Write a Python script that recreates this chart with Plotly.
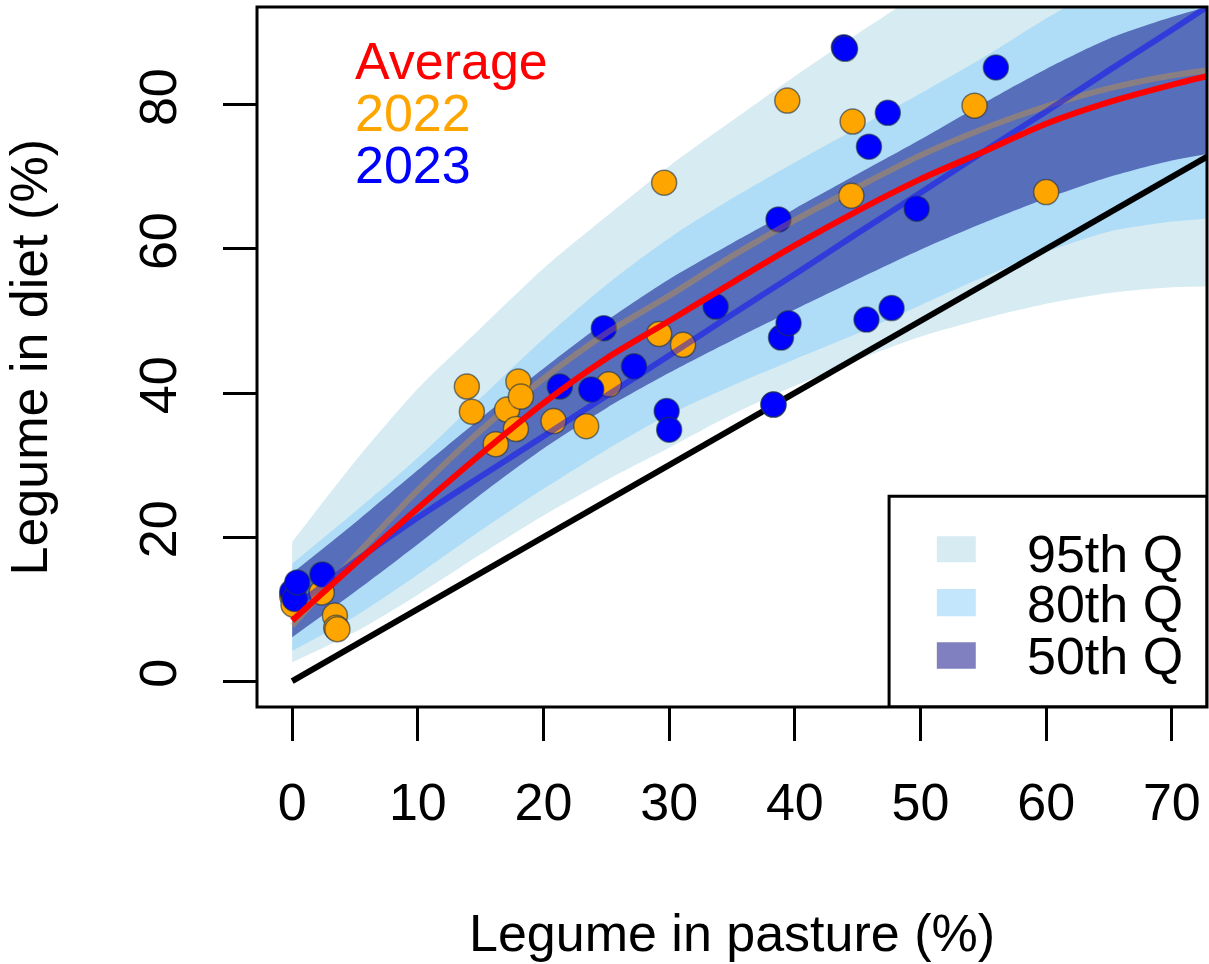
import plotly.graph_objects as go

# ---- data -------------------------------------------------------------
# grid of legume-in-pasture values used for the fitted curves and bands
grid_x = [0, 5, 10, 15, 20, 25, 30, 35, 40, 45, 50, 55, 60, 65, 70, 72.8]

q95_upper = [19.3, 30.5, 40.6, 49.0, 57.3, 64.5, 71.5, 77.8, 84.0, 89.9, 95.5, 100.5, 105.0, 109.0, 112.0, 114.0]
q95_lower = [2.6, 6.8, 12.0, 17.6, 23.0, 27.9, 32.4, 37.0, 41.0, 44.6, 47.8, 50.3, 52.4, 53.9, 54.7, 54.8]
q80_upper = [16.3, 23.5, 31.0, 39.3, 47.5, 55.0, 61.5, 67.0, 72.0, 76.8, 81.6, 86.6, 92.0, 97.0, 101.5, 104.0]
q80_lower = [4.2, 9.0, 14.8, 20.9, 26.7, 32.1, 37.0, 41.0, 44.7, 48.3, 52.2, 56.1, 59.6, 62.4, 63.8, 64.2]
q50_upper = [15.0, 22.0, 29.3, 36.5, 43.4, 50.0, 55.8, 60.8, 65.6, 70.4, 75.2, 80.2, 85.0, 89.2, 92.2, 93.6]
q50_lower = [6.1, 12.4, 19.0, 25.9, 32.3, 37.9, 42.8, 47.3, 51.6, 55.8, 59.9, 63.6, 67.0, 70.0, 72.3, 73.2]

fit_average = [8.4, 16.3, 24.0, 31.5, 38.6, 44.8, 50.0, 55.3, 60.5, 65.3, 69.7, 73.5, 77.4, 80.4, 82.8, 84.0]
fit_2022 = [7.7, 17.3, 26.5, 34.8, 42.0, 48.3, 53.5, 59.0, 64.0, 68.6, 73.0, 76.7, 79.8, 82.3, 84.1, 84.8]
fit_2023 = [10.0, 16.6, 22.7, 28.4, 34.0, 39.6, 45.2, 50.9, 56.5, 62.2, 67.8, 73.5, 79.1, 84.8, 90.4, 93.6]

# 1:1 reference line
one_to_one = [0, 100]

# observations
pasture_2022 = [0.0, 0.1, 2.35, 3.4, 3.5, 3.6, 13.9, 14.3, 16.2, 17.1, 17.8, 18.0, 18.2,
                20.8, 23.4, 25.2, 29.2, 29.6, 31.1, 39.4, 44.6, 44.5, 54.3, 60.0]
diet_2022 = [11.8, 10.6, 12.3, 9.1, 7.4, 7.2, 40.9, 37.4, 32.9, 37.7, 35.0, 41.6, 39.5,
             36.1, 35.4, 41.2, 48.2, 69.2, 46.7, 80.6, 77.7, 67.4, 79.9, 67.9]

pasture_2023 = [0.0, 0.2, 0.4, 2.4, 21.3, 23.8, 24.8, 27.2, 29.8, 30.0, 33.7, 38.3, 38.3,
                38.7, 38.9, 39.5, 43.9, 44.0, 45.7, 45.9, 47.4, 47.7, 49.7, 56.0]
diet_2023 = [12.4, 11.4, 13.7, 14.8, 40.9, 40.5, 49.0, 43.7, 37.5, 34.9, 52.0, 38.4, 38.4,
             64.1, 47.7, 49.7, 88.0, 87.8, 50.2, 74.2, 78.9, 51.8, 65.6, 85.2]

band_labels = ["95th Q", "80th Q", "50th Q"]
band_colors = ["rgba(173,216,230,0.5)", "rgba(135,206,250,0.5)", "rgba(0,0,128,0.5)"]

FONT = "Liberation Sans, Arial, Helvetica, sans-serif"
FS = 52

fig = go.Figure()

# quantile bands, widest first: lower edge, then upper edge filled down to it
hidden = dict(width=0, color="rgba(0,0,0,0)", shape="spline", smoothing=0.8)
for upper, lower, col in zip([q95_upper, q80_upper, q50_upper],
                             [q95_lower, q80_lower, q50_lower], band_colors):
    fig.add_trace(go.Scatter(x=grid_x, y=lower, mode="lines", line=hidden,
                             hoverinfo="skip"))
    fig.add_trace(go.Scatter(x=grid_x, y=upper, mode="lines", line=hidden,
                             fill="tonexty", fillcolor=col, hoverinfo="skip"))

# 1:1 line
fig.add_trace(go.Scatter(x=one_to_one, y=one_to_one, mode="lines",
                         line=dict(color="black", width=6)))

edge = dict(color="rgba(30,50,70,0.6)", width=1.5)
fig.add_trace(go.Scatter(x=pasture_2022, y=diet_2022, mode="markers",
                         marker=dict(size=25, color="#FFA500", line=edge)))
fig.add_trace(go.Scatter(x=pasture_2023, y=diet_2023, mode="markers",
                         marker=dict(size=25, color="#0000FF", line=edge)))

# fitted curves
curve = dict(shape="spline", smoothing=0.7, width=6)
fig.add_trace(go.Scatter(x=grid_x, y=fit_2022, mode="lines",
                         line=dict(color="rgba(255,165,0,0.3)", **curve)))
fig.add_trace(go.Scatter(x=grid_x, y=fit_2023, mode="lines",
                         line=dict(color="rgba(0,0,255,0.45)", **curve)))
fig.add_trace(go.Scatter(x=grid_x, y=fit_average, mode="lines",
                         line=dict(color="#FF0000", **curve)))

# series labels in the top-left corner
for txt, col, yy in [("Average", "#FF0000", 86.1), ("2022", "#FFA500", 78.9), ("2023", "#0000FF", 71.7)]:
    fig.add_annotation(x=4.8, y=yy, xref="x", yref="y", text=txt, showarrow=False,
                       xanchor="left", yanchor="middle",
                       font=dict(family=FONT, size=FS, color=col))

# quantile key in the bottom-right corner
fig.add_shape(type="rect", xref="x", yref="y", x0=47.5, x1=72.8, y0=-3.6, y1=25.65,
              fillcolor="white", line=dict(color="black", width=3), layer="above")
key_y = [(20.1, 16.5), (12.8, 9.0), (5.4, 1.7)]
key_text_y = [17.7, 10.7, 3.5]
for lab, col, (y1, y0), ty in zip(band_labels, ["#D6EBF2", "#C3E6FC", "#8080C0"], key_y, key_text_y):
    fig.add_shape(type="rect", xref="x", yref="y", x0=51.3, x1=54.4, y0=y0, y1=y1,
                  fillcolor=col, line=dict(width=0), layer="above")
    fig.add_annotation(x=58.3, y=ty, xref="x", yref="y", text=lab, showarrow=False,
                       xanchor="left", yanchor="middle",
                       font=dict(family=FONT, size=FS, color="black"))

# axis titles
fig.add_annotation(x=0.5, y=-0.323, xref="paper", yref="paper", text="Legume in pasture (%)",
                   showarrow=False, xanchor="center", yanchor="middle",
                   font=dict(family=FONT, size=FS, color="black"))
fig.add_annotation(x=-0.2395, y=0.5, xref="paper", yref="paper", text="Legume in diet (%)",
                   showarrow=False, xanchor="center", yanchor="middle", textangle=-90,
                   font=dict(family=FONT, size=FS, color="black"))

# plot frame
fig.add_shape(type="rect", xref="paper", yref="paper", x0=0, x1=1, y0=0, y1=1,
              line=dict(color="black", width=3), layer="above")

fig.update_layout(
    width=1209, height=964,
    margin=dict(l=257, r=2, t=7, b=257),
    plot_bgcolor="white", paper_bgcolor="white",
    showlegend=False,
    font=dict(family=FONT, size=FS, color="black"),
    xaxis=dict(range=[-2.8, 72.8], tickvals=[0, 10, 20, 30, 40, 50, 60, 70],
               ticks="outside", ticklen=33, tickwidth=2.5, tickcolor="black",
               showgrid=False, zeroline=False, showline=False,
               ticklabelstandoff=17, tickfont=dict(family=FONT, size=FS)),
    yaxis=dict(range=[-3.6, 93.6], tickvals=[0, 20, 40, 60, 80],
               ticks="outside", ticklen=33, tickwidth=2.5, tickcolor="black",
               showgrid=False, zeroline=False, showline=False, tickangle=-90,
               ticklabelstandoff=26, tickfont=dict(family=FONT, size=FS)),
)

fig.write_html("out.html")
